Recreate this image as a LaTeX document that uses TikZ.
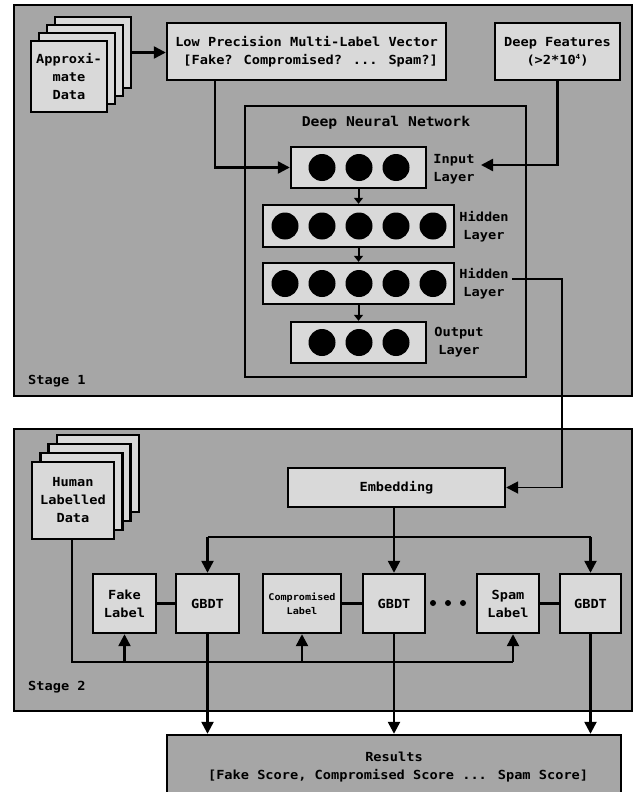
\documentclass[tikz,border=0pt]{standalone}
\usepackage{fontspec}
\setmainfont[FakeStretch=1.09]{DejaVu Sans Mono}
\usetikzlibrary{arrows.meta}
\definecolor{stagegray}{RGB}{166,166,166}
\definecolor{boxgray}{RGB}{217,217,217}
\begin{document}
\begin{tikzpicture}[x=1pt,y=-1pt,
 txt/.style={font=\fontsize{12.5}{18}\selectfont\bfseries, align=center, inner sep=0pt},
 box/.style={txt, draw, line width=2.4pt, fill=boxgray},
 stagebox/.style={draw, line width=2pt, fill=stagegray},
 conn/.style={line width=2.4pt},
 arr/.style={conn, -{Triangle[length=12pt,width=12pt]}},
 smallarr/.style={line width=2pt, -{Triangle[length=6pt,width=9pt]}},
 neuron/.style={circle, fill=black, minimum size=27pt, inner sep=0pt},
 dot/.style={circle, fill=black, minimum size=6pt, inner sep=0pt},
]
\useasboundingbox (0,0) rectangle (634,792);
\fill[white] (0,0) rectangle (634,792);

% ---------- Stage 1 ----------
\node[stagebox, minimum width=618pt, minimum height=391pt, inner sep=0pt] (stage1) at (323,200.5) {};
\node[txt, anchor=west] (s1lbl) at (28,381) {Stage 1};

% approximate data stack
\node[box, minimum width=76pt, minimum height=71pt] (ap4) at (93,52.5) {};
\node[box, minimum width=76pt, minimum height=71pt] (ap3) at (85,60.5) {};
\node[box, minimum width=76pt, minimum height=71pt] (ap2) at (77,68.5) {};
\node[box, minimum width=76pt, minimum height=71pt] (ap1) at (69,76.5) {Approxi-\\mate\\Data};

\node[box, minimum width=279pt, minimum height=57pt] (lp) at (306.5,51.5) {Low Precision Multi-Label Vector\\\ [Fake? Compromised? ... Spam?]};
\node[box, minimum width=125pt, minimum height=57pt] (df) at (557.5,51.5) {Deep Features\\(>2*10\raisebox{5pt}{\fontsize{7}{7}\selectfont 4})};

\draw[arr] (ap4.east) -- (ap4.east -| lp.west);

% DNN
\node[draw, line width=2.4pt, minimum width=281pt, minimum height=271pt, inner sep=0pt] (dnn) at (385.5,241.5) {};
\node[txt, font=\fontsize{13.5}{18}\selectfont\bfseries] (dnnt) at (386,123) {Deep Neural Network};

\node[box, minimum width=135pt, minimum height=41pt] (in) at (358.5,167.5) {};
\node[box, minimum width=191pt, minimum height=42pt] (h1) at (358.5,226) {};
\node[box, minimum width=191pt, minimum height=41pt] (h2) at (358.5,283.5) {};
\node[box, minimum width=135pt, minimum height=41pt] (out) at (358.5,342.5) {};

\foreach \dx [count=\i] in {-37,0,37} {
  \node[neuron] (in\i) at (359+\dx,167.5) {};
  \node[neuron] (out\i) at (359+\dx,342.5) {};
}
\foreach \dx [count=\i] in {-74,-37,0,37,74} {
  \node[neuron] (ha\i) at (359+\dx,226) {};
  \node[neuron] (hb\i) at (359+\dx,283.5) {};
}

\node[txt] (inl) at (454,169.5) {Input\\Layer};
\node[txt] (h1l) at (484,226.5) {Hidden\\Layer};
\node[txt] (h2l) at (484,284) {Hidden\\Layer};
\node[txt] (outl) at (459,342.5) {Output\\Layer};

\draw[smallarr] (in.south) -- (h1.north);
\draw[smallarr] (h1.south) -- (h2.north);
\draw[smallarr] (h2.south) -- (out.north);

\draw[arr] ([xshift=-91.5pt]lp.south) |- (in.west);
\coordinate (intip) at (481,165);
\draw[arr] (df.south) |- (intip);

% ---------- Stage 2 ----------
\node[stagebox, minimum width=618pt, minimum height=282pt, inner sep=0pt] (stage2) at (323,570) {};
\node[txt, anchor=west] (s2lbl) at (28,687) {Stage 2};

\node[box, minimum width=82pt, minimum height=77pt] (hu4) at (98,473.5) {};
\node[box, minimum width=82pt, minimum height=77pt] (hu3) at (89.6,482.5) {};
\node[box, minimum width=82pt, minimum height=77pt] (hu2) at (81.3,491.5) {};
\node[box, minimum width=82pt, minimum height=77pt] (hu1) at (73,500.5) {Human\\Labelled\\Data};

\node[box, minimum width=217pt, minimum height=39pt] (emb) at (396.5,487.5) {Embedding};

\node[box, minimum width=63pt, minimum height=59pt] (fake) at (124.5,603.5) {Fake\\Label};
\node[box, minimum width=63pt, minimum height=59pt] (g1) at (207.5,603.5) {GBDT};
\node[box, minimum width=78pt, minimum height=59pt, font=\fontsize{9.3}{14}\selectfont\bfseries] (comp) at (302,603.5) {Compromised\\Label};
\node[box, minimum width=62pt, minimum height=59pt] (g2) at (394,603.5) {GBDT};
\node[box, minimum width=62pt, minimum height=59pt] (spam) at (508,603.5) {Spam\\Label};
\node[box, minimum width=61pt, minimum height=59pt] (g3) at (590.5,603.5) {GBDT};

\draw[conn] (fake.east) -- (g1.west);
\draw[conn] (comp.east) -- (g2.west);
\draw[conn] (spam.east) -- (g3.west);

\node[dot] (d1) at (433,603) {};
\node[dot] (d2) at (448,603) {};
\node[dot] (d3) at (463,603) {};

% hidden layer -> embedding
\coordinate (h2o) at (512,279);
\draw[line width=1.8pt, -{Triangle[length=12pt,width=12pt]}] (h2o) -- (562,279) |- (emb.east);

% embedding -> GBDTs
\coordinate (busT) at (394,537);
\draw[conn] (g1.north |- busT) -- (g3.north |- busT);
\draw[arr] (g2.north |- emb.south) -- (g2.north);
\draw[arr] (g1.north |- busT) -- (g1.north);
\draw[arr] (g3.north |- busT) -- (g3.north);

% human data -> labels
\coordinate (busL) at (72,662);
\coordinate (spamin) at (513,662);
\draw[conn] (hu1.south -| busL) -- (busL) -- (spamin);
\draw[arr] (fake.south |- busL) -- (fake.south);
\draw[arr] (comp.south |- busL) -- (comp.south);
\draw[arr] (spamin) -- (spamin |- spam.south);

% ---------- Results ----------
\node[txt, draw, line width=2.4pt, fill=stagegray, minimum width=454pt, minimum height=65pt] (res) at (394,767.5) {Results\\\ [Fake Score, Compromised Score ... Spam Score]};

\draw[arr] (g1.south) -- (g1.south |- res.north);
\draw[arr] (g2.south) -- (g2.south |- res.north);
\draw[arr] (g3.south) -- (g3.south |- res.north);
\end{tikzpicture}
\end{document}
